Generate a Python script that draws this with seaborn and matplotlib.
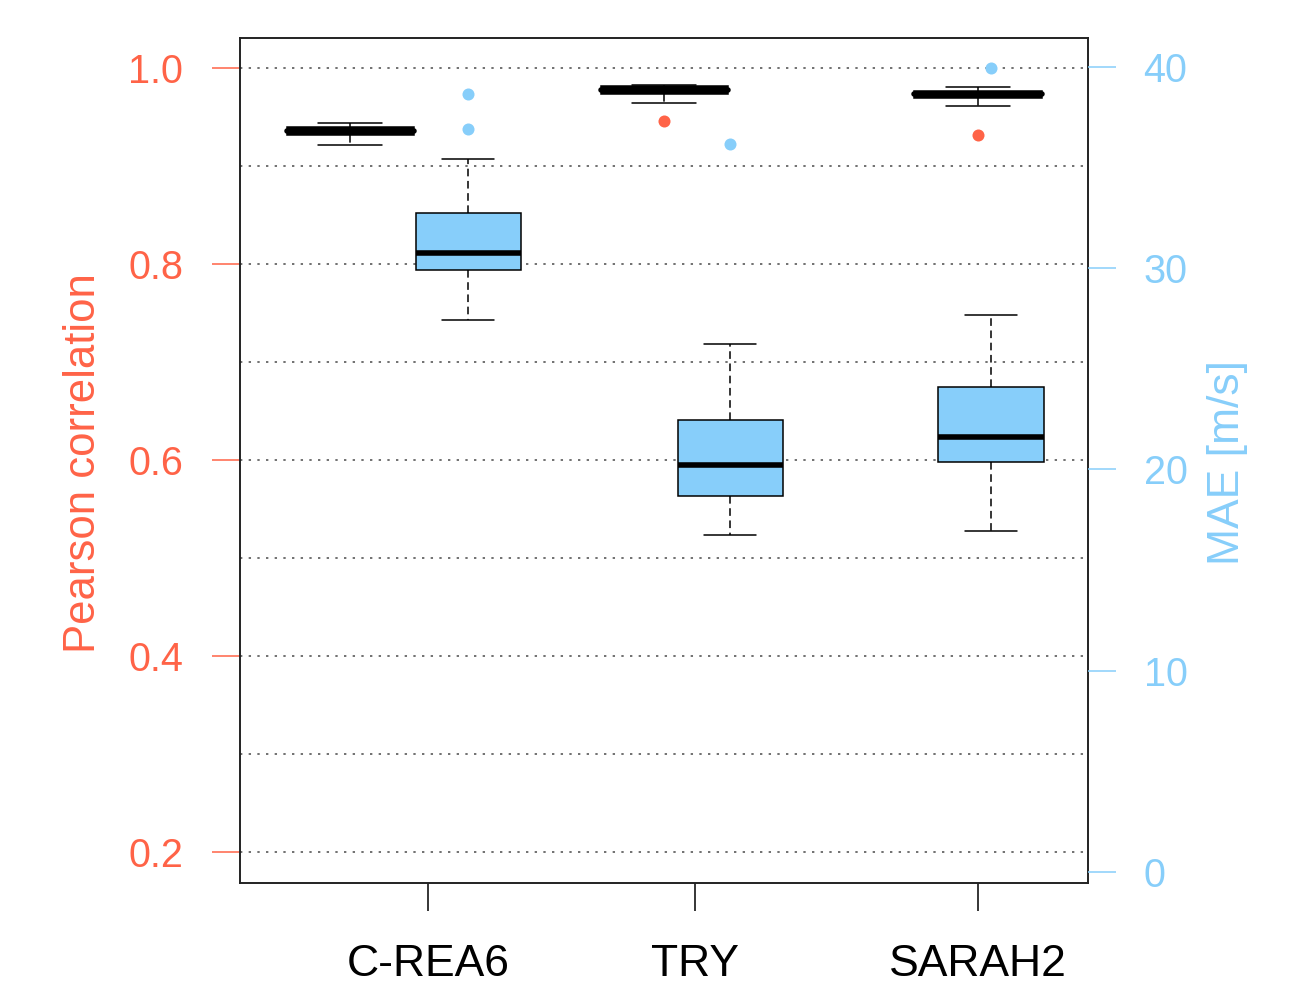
import numpy as np
import pandas as pd
import matplotlib
matplotlib.use("Agg")
import matplotlib.pyplot as plt
import seaborn as sns

# Products on the x axis
products = ["C-REA6", "TRY", "SARAH2"]

# Pearson correlation box statistics (left axis)
corr_low = [0.9214, 0.9643, 0.9612]
corr_q1 = [0.9319, 0.9738, 0.9692]
corr_median = [0.9357, 0.9776, 0.9730]
corr_q3 = [0.9395, 0.9813, 0.9767]
corr_high = [0.9439, 0.9827, 0.9806]
corr_outlier_product = ["TRY", "SARAH2"]
corr_outlier_value = [0.9459, 0.9316]

# MAE box statistics (right axis)
mae_low = [27.43, 16.75, 16.94]
mae_q1 = [29.91, 18.68, 20.37]
mae_median = [30.76, 20.22, 21.61]
mae_q3 = [32.75, 22.46, 24.10]
mae_high = [35.43, 26.24, 27.68]
mae_outlier_product = ["C-REA6", "C-REA6", "TRY", "SARAH2"]
mae_outlier_value = [38.66, 36.91, 36.17, 39.95]

corr_ticks = [0.2, 0.4, 0.6, 0.8, 1.0]
corr_minor = [0.3, 0.5, 0.7, 0.9]
mae_ticks = [0, 10, 20, 30, 40]

# layout: positions of boxes and ticks along the x axis
corr_pos = [1.10, 4.24, 7.38]
mae_pos = [2.28, 4.90, 7.51]
label_pos = [1.88, 4.55, 7.38]

RED = "tomato"
BLUE = "#87CEFA"
FONT = ["Liberation Sans", "DejaVu Sans"]


def five_number_frame(pos, low, q1, med, q3, high):
    # five values per box -> percentiles 0/25/50/75/100 reproduce the stats
    rows = []
    for p, a, b, c, d, e in zip(pos, low, q1, med, q3, high):
        for v in (a, b, c, d, e):
            rows.append({"pos": p, "value": v})
    return pd.DataFrame(rows)


def main():
    sns.set_style("white")
    plt.rcParams["font.family"] = FONT

    corr_df = five_number_frame(corr_pos, corr_low, corr_q1, corr_median, corr_q3, corr_high)
    mae_df = five_number_frame(mae_pos, mae_low, mae_q1, mae_median, mae_q3, mae_high)

    fig = plt.figure(figsize=(13.03, 9.83), dpi=100)
    ax = fig.add_axes([240 / 1303, 1 - 883 / 983, 848 / 1303, 845 / 983])
    ax2 = ax.twinx()

    dash = (0, (5, 3))

    # correlation boxes (tiny, drawn black)
    sns.boxplot(data=corr_df, x="pos", y="value", native_scale=True, ax=ax,
                color="black", linecolor="black", linewidth=1.1, saturation=1,
                width=1.27 / np.diff(corr_pos).min(), whis=(0, 100),
                showfliers=False,
                whiskerprops={"linestyle": dash},
                medianprops={"linewidth": 4, "solid_capstyle": "round"})

    # MAE boxes
    sns.boxplot(data=mae_df, x="pos", y="value", native_scale=True, ax=ax2,
                color=BLUE, linecolor="black", linewidth=1.1, saturation=1,
                width=1.05 / np.diff(mae_pos).min(), whis=(0, 100),
                showfliers=False,
                whiskerprops={"linestyle": dash},
                medianprops={"linewidth": 4})

    # outliers
    corr_x = [corr_pos[products.index(p)] for p in corr_outlier_product]
    mae_x = [mae_pos[products.index(p)] for p in mae_outlier_product]
    sns.scatterplot(x=corr_x, y=corr_outlier_value, ax=ax, color=RED,
                    s=75, linewidth=0, zorder=5)
    sns.scatterplot(x=mae_x, y=mae_outlier_value, ax=ax2, color=BLUE,
                    s=75, linewidth=0, zorder=5)

    # axes limits
    ax.set_xlim(0, 8.48)
    ax.set_ylim(0.1684, 1.0306)
    ax2.set_ylim(-0.547, 41.44)

    # left axis
    ax.set_yticks(corr_ticks)
    ax.set_yticklabels([f"{t:.1f}" for t in corr_ticks])
    ax.set_yticks(corr_minor, minor=True)
    ax.tick_params(axis="y", which="major", left=True, colors=RED, length=20,
                   width=1.1, labelsize=28.5, pad=21)
    ax.tick_params(axis="y", which="minor", length=0)
    ax.grid(axis="y", which="both", color="#666666", linestyle=(0, (1.3, 3.5)),
            linewidth=1.3)
    ax.set_axisbelow(True)
    ax.set_ylabel("Pearson correlation", color=RED, fontsize=31.5)
    ax.yaxis.set_label_coords(-0.160, 0.497)

    # x axis
    ax.set_xticks(label_pos)
    ax.set_xticklabels(products)
    ax.tick_params(axis="x", bottom=True, colors="black", length=20,
                   width=1.1, labelsize=32, pad=24)
    ax.set_xlabel("")

    # right axis
    ax2.set_yticks(mae_ticks)
    ax2.set_yticklabels([str(t) for t in mae_ticks])
    ax2.tick_params(axis="y", right=True, colors=BLUE, length=20, width=1.1,
                    labelsize=28.5, pad=20)
    ax2.set_ylabel("MAE [m/s]", color=BLUE, fontsize=32, rotation=90)
    ax2.yaxis.set_label_coords(1.1400, 0.497)
    ax2.set_xlabel("")

    for s in ax.spines.values():
        s.set_visible(True)
        s.set_color("#222222")
        s.set_linewidth(1.4)
    for s in ax2.spines.values():
        s.set_visible(False)

    fig.savefig("out.png", dpi=100)


if __name__ == "__main__":
    main()
